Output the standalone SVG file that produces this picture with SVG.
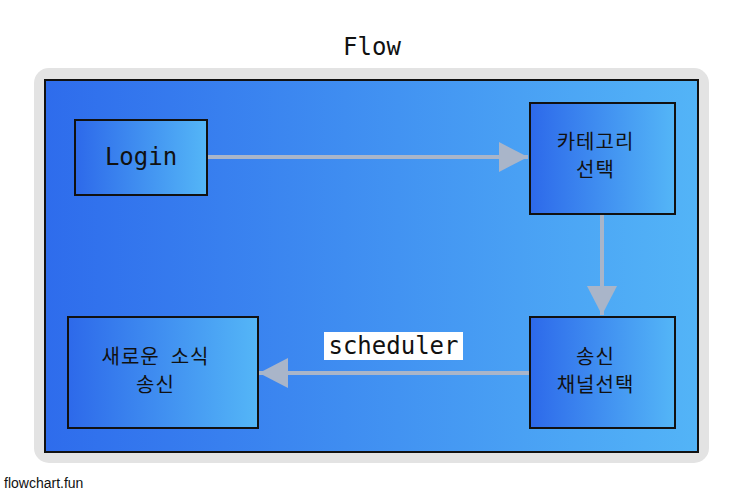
<svg xmlns="http://www.w3.org/2000/svg" width="744" height="496" viewBox="0 0 744 496">
<defs>
<linearGradient id="bg" x1="0" y1="0" x2="1" y2="0">
<stop offset="0" stop-color="#2e6cec"/>
<stop offset="1" stop-color="#53b4f7"/>
</linearGradient>
<linearGradient id="ng" x1="0" y1="0" x2="1" y2="0">
<stop offset="0" stop-color="#2d69ea"/>
<stop offset="1" stop-color="#54b6f7"/>
</linearGradient>
<marker id="ah" markerUnits="userSpaceOnUse" markerWidth="30" markerHeight="30" viewBox="0 0 30 30" refX="29" refY="15" orient="auto">
<path d="M0,0 L29,15 L0,30 Z" fill="#a9b5c9"/>
</marker>
</defs>
<style>
.node rect{fill:url(#ng);stroke:#111;stroke-width:2}
.mono{font-family:"DejaVu Sans Mono","Liberation Mono",monospace;font-size:24px;fill:#111}
.ko{font-family:"Noto Sans CJK KR","Noto Sans",sans-serif;font-size:20px;letter-spacing:1px;fill:#111;white-space:pre}
.edge{fill:none;stroke:#a9b5c9;stroke-width:4}
</style>
<rect width="744" height="496" fill="#fff"/>
<text x="372" y="55" text-anchor="middle" class="mono">Flow</text>
<rect x="34" y="68" width="675" height="395" rx="15" fill="#e3e3e3"/>
<rect x="45" y="80" width="653" height="372" fill="url(#bg)" stroke="#111" stroke-width="2"/>
<g id="connectors">
<path class="edge" d="M207,157 L528,157" marker-end="url(#ah)"/>
<path class="edge" d="M602,214 L602,315" marker-end="url(#ah)"/>
<path class="edge" d="M530,373 L259,373" marker-end="url(#ah)"/>
<rect x="324" y="332" width="139" height="28" fill="#fff"/>
<text x="393.5" y="354" text-anchor="middle" class="mono">scheduler</text>
</g>
<g id="login" class="node">
<rect x="75" y="120" width="132" height="75"/>
<text x="141" y="165" text-anchor="middle" class="mono">Login</text>
</g>
<g id="category" class="node">
<rect x="530" y="103" width="145" height="111"/>
<text x="595.5" y="149" text-anchor="middle" class="ko">카테고리</text>
<text x="595.5" y="177" text-anchor="middle" class="ko">선택</text>
</g>
<g id="channel" class="node">
<rect x="530" y="317" width="145" height="111"/>
<text x="595.5" y="364" text-anchor="middle" class="ko">송신</text>
<text x="595.5" y="392" text-anchor="middle" class="ko">채널선택</text>
</g>
<g id="news" class="node">
<rect x="68" y="317" width="190" height="111"/>
<text x="155.5" y="364" text-anchor="middle" class="ko">새로운&#160; 소식</text>
<text x="155.5" y="392" text-anchor="middle" class="ko">송신</text>
</g>
<text x="4" y="488" font-family="Liberation Sans,Arial,sans-serif" font-size="14" fill="#111">flowchart.fun</text>
</svg>
